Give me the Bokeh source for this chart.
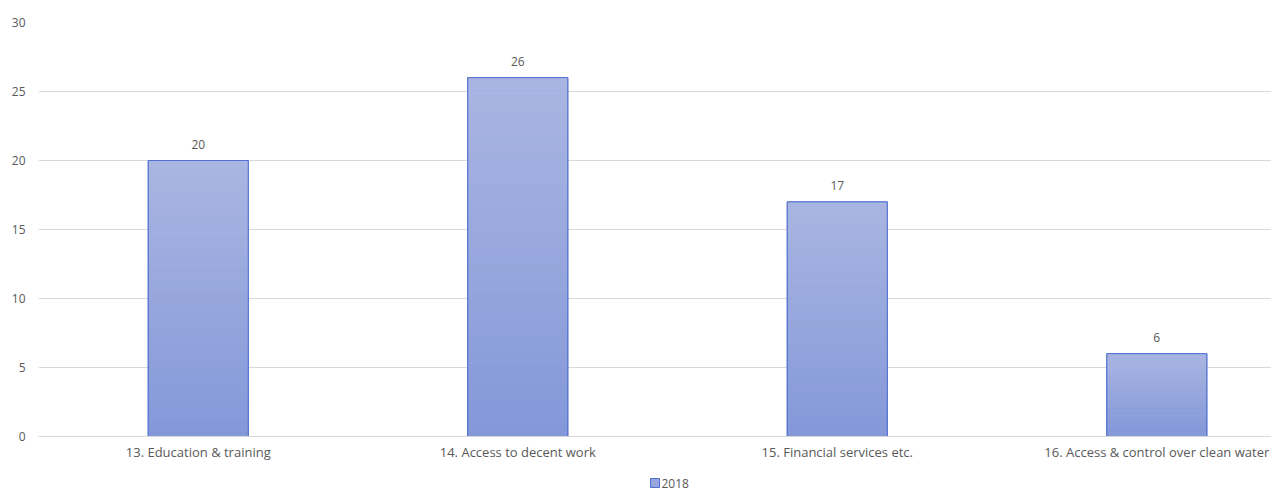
from bokeh.plotting import figure
from bokeh.layouts import column
from bokeh.models import Range1d, FixedTicker, ColumnDataSource, LabelSet
from bokeh.core.properties import value
from bokeh.embed import file_html
from bokeh.resources import INLINE

categories = ["13. Education & training", "14. Access to decent work",
              "15. Financial services etc.", "16. Access & control over clean water"]
values_2018 = [20, 26, 17, 6]
series_name = "2018"
y_ticks = [0, 5, 10, 15, 20, 25, 30]

FONT = "Open Sans"
TXT = "#595959"
TOP_C = (170, 182, 226)
BOT_C = (132, 152, 217)
EDGE = "#4F70CF"
MID = "#97A7DC"

xs = [i + 0.5 for i in range(len(categories))]
bw = 0.313

W = 1271
LEFT = 38
FW = W - LEFT
p = figure(width=W, height=466, output_backend="svg", toolbar_location=None,
           x_range=Range1d(0, 3.859), y_range=Range1d(0, 30),
           min_border_left=LEFT, min_border_right=0, min_border_top=22, min_border_bottom=30)
p.outline_line_color = None
p.background_fill_color = "white"
p.border_fill_color = "white"

p.vbar(x=xs, top=values_2018, width=bw, fill_color=MID, line_color=EDGE, line_width=1)

N = 60
l, r, b, t, cols = [], [], [], [], []
for x, v in zip(xs, values_2018):
    for k in range(N):
        f0, f1 = k / N, (k + 1) / N
        l.append(x - bw / 2); r.append(x + bw / 2)
        b.append(v * f0); t.append(v * f1)
        fm = (f0 + f1) / 2
        c = tuple(int(round(BOT_C[j] + (TOP_C[j] - BOT_C[j]) * fm)) for j in range(3))
        cols.append("#%02x%02x%02x" % c)
p.quad(left=l, right=r, bottom=b, top=t, fill_color=cols, line_color=cols, line_width=0.5)
p.vbar(x=xs, top=values_2018, width=bw, fill_color=None, line_color=EDGE, line_width=1)

src = ColumnDataSource(dict(x=xs, y=values_2018, t=[str(v) for v in values_2018]))
p.add_layout(LabelSet(x="x", y="y", text="t", source=src, text_align="center", y_offset=12,
                      text_font=value(FONT), text_font_size=value("12px"), text_color=TXT))

p.xaxis.ticker = FixedTicker(ticks=xs)
p.xaxis.major_label_overrides = {x: c for x, c in zip(xs, categories)}
p.xaxis.axis_line_color = "#D9D9D9"
p.xaxis.major_tick_line_color = None
p.xaxis.minor_tick_line_color = None
p.xaxis.major_tick_out = 0
p.xaxis.major_tick_in = 0
p.xaxis.major_label_text_font = FONT
p.xaxis.major_label_text_font_size = "13px"
p.xaxis.major_label_text_color = TXT
p.xaxis.major_label_standoff = 6

p.yaxis.ticker = FixedTicker(ticks=y_ticks)
p.yaxis.axis_line_color = None
p.yaxis.major_tick_line_color = None
p.yaxis.minor_tick_line_color = None
p.yaxis.major_tick_out = 0
p.yaxis.major_tick_in = 0
p.yaxis.major_label_text_font = FONT
p.yaxis.major_label_text_font_size = "12px"
p.yaxis.major_label_text_color = TXT
p.yaxis.major_label_standoff = 13

p.xgrid.grid_line_color = None
p.ygrid.grid_line_color = "#D9D9D9"

# legend strip below the chart (frame aligned with the chart frame)
q = figure(width=W, height=25, output_backend="svg", toolbar_location=None,
           x_range=Range1d(0, FW), y_range=Range1d(0, 25),
           x_axis_location=None, y_axis_location=None,
           min_border_left=LEFT, min_border_right=0, min_border_top=0, min_border_bottom=0)
q.grid.visible = False
q.outline_line_color = None
q.border_fill_color = "white"
q.background_fill_color = "white"
q.scatter(x=[650 + 4.5 - LEFT], y=[8.5], marker="square", size=9,
          fill_color=MID, line_color=EDGE, line_width=1)
q.text(x=[661 - LEFT], y=[8.5], text=[series_name], text_font=value(FONT), text_font_size=value("12px"),
       text_color=TXT, text_baseline="middle", text_align="left")

open("out.html", "w").write(file_html(column(p, q, spacing=0), INLINE))
